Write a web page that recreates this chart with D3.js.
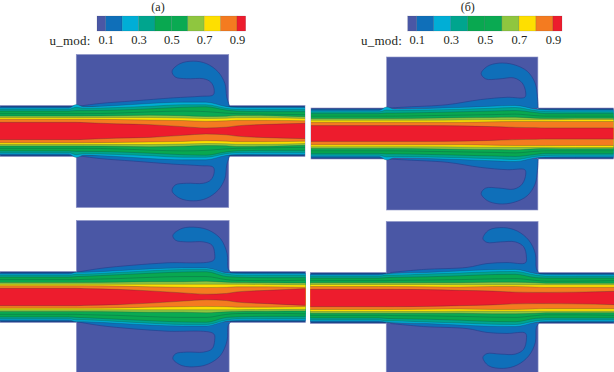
<!DOCTYPE html>
<html>
<head>
<meta charset="utf-8">
<script src="https://cdn.jsdelivr.net/npm/d3@7"></script>
<style>
  html, body { margin: 0; padding: 0; background: #fff; }
  svg { display: block; }
  text { font-family: "Liberation Serif", serif; fill: #231f20; }
</style>
</head>
<body>
<div id="chart"></div>
<script>
// contour level colours, lowest band first
const bandColors = ['#4a57a5', '#0f6fb9', '#00aed6', '#00a58e', '#09a850', '#0aaa52', '#8fc63f', '#fedf00', '#f47b20', '#ed1c2d'];
const legendTicks = [0.1, 0.3, 0.5, 0.7, 0.9];
const legendEdges = [0.047, 0.1, 0.2, 0.3, 0.4, 0.5, 0.6, 0.7, 0.8, 0.9, 0.953];

// stations along the channel, in channel half-heights
const stations = [0, 2.7, 3.0, 3.3, 4.6, 5.9, 7.2, 8.1, 8.9, 9.3, 10.5, 12];

// half-width of each contour (u = 0.1 ... 0.9) at every station
const levelsA = [
  [.95, .95, .96, .95, .95, .95, .95, .95, .95, .95, .95, .95],
  [.90, .90, 1.04, .95, 1.0, 1.08, 1.13, 1.13, .96, .92, .91, .91],
  [.85, .85, .93, .89, .92, .97, 1.03, 1.03, .89, .85, .84, .84],
  [.78, .78, .80, .80, .82, .87, .93, .95, .82, .78, .76, .76],
  [.68, .68, .68, .68, .70, .75, .78, .76, .70, .68, .66, .64],
  [.59, .59, .59, .59, .60, .62, .60, .57, .58, .61, .60, .56],
  [.53, .53, .53, .53, .53, .53, .51, .49, .50, .52, .52, .49],
  [.46, .46, .46, .46, .45, .43, .41, .38, .40, .42, .42, .40],
  [.34, .34, .34, .33, .28, .25, .17, .12, .15, .20, .26, .30]
];
const levelsB = [
  [.95, .95, .96, .95, .95, .95, .95, .95, .95, .95, .95, .95],
  [.90, .90, 1.04, .96, .98, 1.02, 1.07, 1.10, .96, .92, .91, .91],
  [.85, .85, .92, .90, .92, .95, .99, 1.02, .90, .86, .85, .85],
  [.78, .78, .80, .80, .82, .85, .88, .90, .82, .78, .78, .78],
  [.68, .68, .68, .68, .70, .72, .74, .76, .70, .68, .68, .68],
  [.59, .59, .59, .59, .60, .62, .63, .64, .60, .59, .60, .60],
  [.52, .52, .52, .52, .52, .53, .54, .54, .54, .54, .55, .55],
  [.44, .44, .44, .44, .44, .44, .46, .47, .47, .47, .47, .47],
  [.31, .31, .31, .31, .31, .30, .27, .24, .23, .22, .22, .22]
];
const levelsC = [
  [.95, .95, .95, .95, .95, .95, .95, .95, .95, .95, .95, .95],
  [.90, .90, .97, .97, 1.03, 1.10, 1.14, 1.14, .95, .92, .91, .91],
  [.85, .85, .90, .90, .96, 1.03, 1.08, 1.08, .90, .86, .85, .85],
  [.78, .78, .80, .81, .87, .93, .98, .99, .80, .78, .76, .76],
  [.68, .68, .68, .69, .72, .77, .80, .80, .68, .65, .64, .66],
  [.57, .57, .57, .57, .58, .60, .60, .62, .58, .57, .56, .55],
  [.50, .50, .50, .50, .50, .50, .50, .50, .50, .50, .49, .48],
  [.44, .44, .44, .44, .43, .40, .38, .37, .38, .40, .40, .38],
  [.34, .34, .34, .33, .30, .24, .16, .11, .14, .20, .26, .33]
];
const levelsD = [
  [.95, .95, .95, .95, .95, .95, .95, .95, .95, .95, .95, .95],
  [.90, .90, .95, .97, 1.0, 1.06, 1.11, 1.12, .96, .92, .91, .91],
  [.85, .85, .90, .90, .94, .98, 1.03, 1.04, .90, .86, .85, .85],
  [.78, .78, .80, .81, .83, .87, .92, .93, .80, .78, .78, .78],
  [.68, .68, .68, .69, .70, .72, .75, .76, .69, .66, .66, .68],
  [.60, .60, .60, .60, .60, .60, .62, .62, .60, .58, .58, .58],
  [.53, .53, .53, .53, .53, .52, .52, .52, .52, .52, .52, .52],
  [.45, .45, .45, .45, .44, .43, .45, .45, .43, .42, .42, .42],
  [.34, .34, .34, .34, .33, .30, .27, .23, .22, .22, .23, .26]
];

// the u = 0.1 contour that leaves the channel and curls into the cavity
const hookA = [[3.08, .97], [3.93, 1.08], [5.25, 1.18], [6.82, 1.30], [7.87, 1.36], [8.39, 1.42], [8.42, 1.66], [8.29, 1.92], [8.00, 2.05], [7.34, 2.05], [6.89, 2.12], [6.77, 2.35], [7.08, 2.64], [7.61, 2.74], [8.13, 2.64], [8.59, 2.31], [8.85, 1.86], [8.92, 1.34], [9.05, .92]];
const hookB = [[3.09, 1.0], [3.81, 1.04], [5.40, 1.13], [6.73, 1.33], [7.79, 1.42], [8.48, 1.42], [8.52, 1.59], [8.38, 1.98], [8.05, 2.18], [7.46, 2.14], [6.93, 2.14], [6.75, 2.35], [6.99, 2.63], [7.46, 2.76], [8.05, 2.70], [8.58, 2.44], [8.89, 1.98], [8.98, 1.46], [9.01, 1.0]];
const hookC = [[3.02, .97], [3.93, 1.12], [5.25, 1.25], [6.56, 1.34], [8.39, 1.44], [8.43, 1.71], [8.33, 2.03], [8.00, 2.16], [7.34, 2.16], [6.89, 2.23], [6.79, 2.42], [7.15, 2.69], [7.74, 2.73], [8.20, 2.62], [8.66, 2.29], [8.92, 1.71], [8.96, 1.12], [9.05, .99]];
const hookD = [[3.16, 1.0], [4.48, 1.12], [6.19, 1.20], [6.98, 1.35], [7.77, 1.39], [8.50, 1.38], [8.54, 1.61], [8.43, 2.01], [8.10, 2.20], [7.51, 2.20], [6.98, 2.18], [6.82, 2.33], [7.05, 2.66], [7.64, 2.76], [8.17, 2.63], [8.63, 2.27], [8.89, 1.75], [8.93, 1.16], [9.03, .99]];

const width = 614, height = 372;

const svg = d3.select('#chart').append('svg')
  .attr('width', width)
  .attr('height', height);

// the scan in the reference is a little soft
const soft = svg.append('defs').append('filter').attr('id', 'soft');
soft.append('feGaussianBlur').attr('stdDev', 0.35);

function drawPanel(levels, hook, left, right, top, bottom) {
  const x = d3.scaleLinear([0, 12], [left, right]);
  const y = d3.scaleLinear([3, -3], [top, bottom]);
  const g = svg.append('g').attr('filter', 'url(#soft)');

  const walls = [[0, 1, 12, -1], [3, 3, 9, -3]]; // channel, cavity
  g.selectAll('rect').data(walls).join('rect')
    .attr('x', d => x(d[0]))
    .attr('y', d => y(d[1]))
    .attr('width', d => x(d[2]) - x(d[0]))
    .attr('height', d => y(d[3]) - y(d[1]))
    .attr('fill', (d, i) => i ? bandColors[0] : '#28408f')
    .attr('stroke', '#8d93c6')
    .attr('stroke-width', 0.6);

  // upper hook, then its mirror image below the channel
  const hookLine = d3.line().x(d => x(d[0])).curve(d3.curveCatmullRom.alpha(0.5));
  [1, -1].forEach(side => {
    g.append('path')
      .attr('d', hookLine.y(d => y(side * d[1]))(hook))
      .attr('fill', bandColors[1])
      .attr('stroke', '#26408f')
      .attr('stroke-width', 0.7);
  });

  // nested bands, outermost first, with the contour lines only along their long edges
  const band = d3.area()
    .x((d, i) => x(stations[i]))
    .y0(d => y(-d))
    .y1(d => y(d))
    .curve(d3.curveMonotoneX);
  levels.forEach((level, i) => {
    g.append('path')
      .attr('d', band(level))
      .attr('fill', bandColors[i + 1]);
    g.append('path')
      .attr('d', band.lineY1()(level))
      .attr('fill', 'none')
      .attr('stroke', 'rgba(15,50,60,0.5)')
      .attr('stroke-width', 0.5);
    g.append('path')
      .attr('d', band.lineY0()(level))
      .attr('fill', 'none')
      .attr('stroke', 'rgba(15,50,60,0.5)')
      .attr('stroke-width', 0.5);
  });
}

function drawLegend(title, titleX, left, right, labelEnd) {
  const scale = d3.scaleLinear([legendEdges[0], legendEdges[10]], [left, right]);
  const g = svg.append('g');

  g.selectAll('rect').data(d3.pairs(legendEdges)).join('rect')
    .attr('x', d => scale(d[0]))
    .attr('y', 16)
    .attr('width', d => scale(d[1]) - scale(d[0]))
    .attr('height', 15)
    .attr('fill', (d, i) => bandColors[i])
    .attr('stroke', 'rgba(40,50,70,0.25)')
    .attr('stroke-width', 0.5);

  const axis = d3.axisBottom(scale)
    .tickValues(legendTicks)
    .tickFormat(d3.format('.1f'))
    .tickSize(0)
    .tickPadding(4);
  const axisG = g.append('g').attr('transform', 'translate(0,31)').call(axis);
  axisG.select('.domain').remove();
  axisG.selectAll('text')
    .style('font-family', '"Liberation Serif", serif')
    .style('font-size', '12.5px');

  g.append('text')
    .attr('x', titleX)
    .attr('y', 11)
    .attr('text-anchor', 'middle')
    .style('font-size', '12px')
    .text(title);
  g.append('text')
    .attr('x', labelEnd)
    .attr('y', 44.5)
    .attr('text-anchor', 'end')
    .style('font-size', '13px')
    .style('letter-spacing', '0.2px')
    .text('u_mod:');
}

drawPanel(levelsA, hookA, 0, 305, 54.5, 207.5);
drawPanel(levelsB, hookB, 311, 613.5, 57, 210);
drawPanel(levelsC, hookC, 0, 305.5, 220.5, 373.5);
drawPanel(levelsD, hookD, 310.3, 614, 221.5, 374.5);

drawLegend('(а)', 158, 97, 245.7, 90.5);
drawLegend('(б)', 467.7, 407.7, 562, 402);
</script>
</body>
</html>
